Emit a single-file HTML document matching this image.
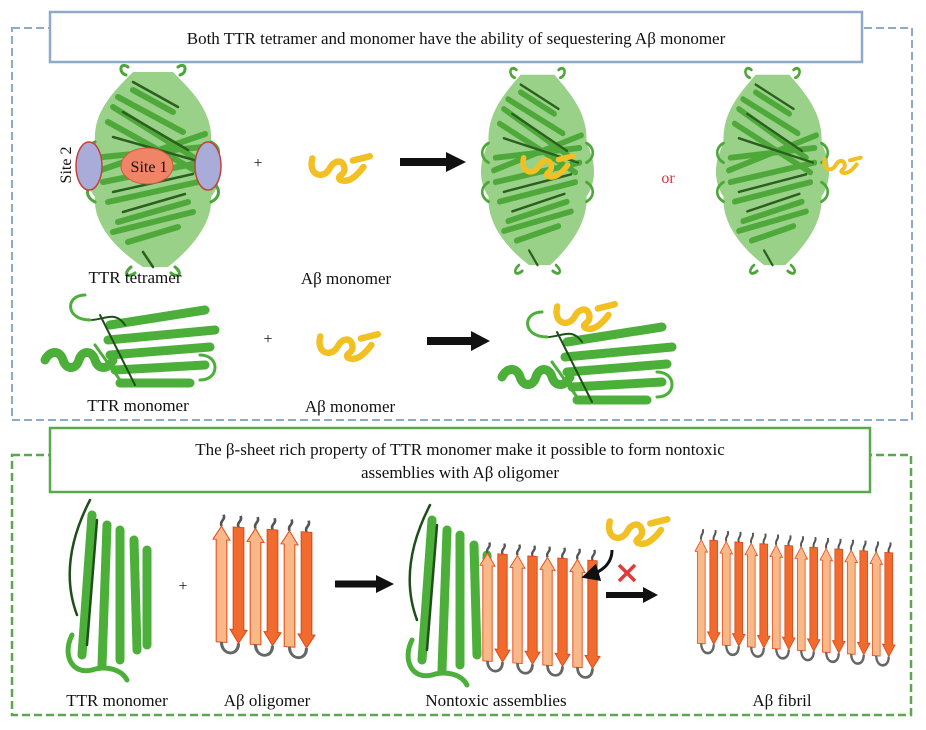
<!DOCTYPE html>
<html><head><meta charset="utf-8"><style>
html,body{margin:0;padding:0;background:#fff}
svg{display:block}
text{font-family:"Liberation Serif",serif;fill:#111}
</style></head><body>
<svg width="926" height="730" viewBox="0 0 926 730" xmlns="http://www.w3.org/2000/svg">
<defs>
<symbol id="tet" viewBox="0 0 160 210" overflow="visible" preserveAspectRatio="none">
 <path d="M60,10 C40,30 20,50 22,80 C10,100 10,120 22,135 C20,160 40,185 70,205 L95,205 C120,185 140,160 138,135 C150,120 150,100 138,80 C140,50 120,30 100,10 Z" fill="#86c972" opacity="0.85"/>
 <g fill="none" stroke-linecap="round">
  <g stroke="#4fa83a" stroke-width="6">
   <path d="M40,45 L120,95"/><path d="M35,60 L125,110"/><path d="M45,35 L110,70"/>
   <path d="M30,120 L130,100"/><path d="M35,140 L125,120"/><path d="M45,160 L115,140"/>
   <path d="M55,180 L105,165"/><path d="M60,28 L100,50"/><path d="M30,95 L130,85"/>
   <path d="M40,170 L120,150"/><path d="M28,108 L132,72"/>
  </g>
  <g stroke="#2a5f1e" stroke-width="2.5">
   <path d="M50,50 L115,88"/><path d="M40,75 L128,100"/><path d="M40,130 L120,112"/><path d="M50,150 L112,132"/><path d="M70,190 L80,205"/><path d="M60,20 L105,45"/>
  </g>
  <g stroke="#4ea63a" stroke-width="3">
   <path d="M55,5 c-8,-6 -10,6 -2,8 M105,5 c8,-6 10,6 2,8 M58,205 c-8,6 -4,12 4,6 M102,205 c8,6 4,12 -4,6"/>
   <path d="M22,80 c-10,5 -10,15 0,20 M138,80 c10,5 10,15 0,20 M22,120 c-10,5 -10,15 0,20 M138,120 c10,5 10,15 0,20"/>
  </g>
 </g>
</symbol>
<symbol id="mono" viewBox="0 0 200 110" overflow="visible">
 <g fill="none" stroke-linecap="round">
  <path d="M5,75 c5,-10 15,-10 18,0 c3,10 13,10 16,0 c3,-10 13,-10 16,0 c3,10 13,10 18,0" stroke="#4caf3a" stroke-width="9"/>
  <g stroke="#4caf3a" stroke-width="9">
   <path d="M70,40 L165,25"/><path d="M68,55 L175,45"/><path d="M70,70 L170,62"/><path d="M75,85 L165,80"/><path d="M80,98 L150,98"/>
  </g>
  <g stroke="#1f4f18" stroke-width="2">
   <path d="M45,10 c-20,0 -20,25 5,25 c15,0 25,-10 35,5 M60,30 L95,100 M160,70 c20,0 20,25 0,25"/>
  </g>
  <path d="M45,10 c-20,0 -20,25 5,25 M160,70 c20,0 20,25 0,25 M55,60 L80,95" stroke="#4caf3a" stroke-width="3"/>
 </g>
</symbol>
<symbol id="vm" viewBox="0 0 90 190" overflow="visible">
 <g fill="none" stroke-linecap="round">
  <g stroke="#4caf3a" stroke-width="9">
   <path d="M30,20 L20,160"/><path d="M45,30 L40,170"/><path d="M58,35 L58,165"/><path d="M72,45 L75,155"/><path d="M85,55 L85,150"/>
  </g>
  <g stroke="#1f4f18" stroke-width="2.5"><path d="M28,5 C10,40 0,80 15,120 M35,25 L25,150"/></g>
  <path d="M10,140 c-10,20 0,40 20,35 c15,-5 30,0 35,10" stroke="#4caf3a" stroke-width="5"/>
 </g>
</symbol>
<symbol id="ab" viewBox="0 0 60 30" overflow="visible">
 <path d="M4,6 C0,22 14,26 20,16 C24,8 32,6 34,14 C36,22 26,22 30,26 C38,30 46,22 52,14 M42,8 L58,4" fill="none" stroke="#f2c022" stroke-width="6" stroke-linecap="round" stroke-linejoin="round"/>
</symbol>
<symbol id="up" viewBox="0 0 16 120" overflow="visible" preserveAspectRatio="none">
 <path d="M3,120 L3,14 L0,14 L8,0 L16,14 L13,14 L13,120 Z" fill="#f9b887" stroke="#e0501e" stroke-width="1"/>
</symbol>
<symbol id="dn" viewBox="0 0 16 120" overflow="visible" preserveAspectRatio="none">
 <path d="M3,0 L13,0 L13,106 L16,106 L8,120 L0,106 L3,106 Z" fill="#f26b2e" stroke="#d84a18" stroke-width="1"/>
</symbol>
<symbol id="pair" viewBox="0 0 32 150" overflow="visible" preserveAspectRatio="none">
 <path d="M8,14 c-2,-6 4,-6 2,-12 M24,14 c-2,-6 4,-6 2,-12" fill="none" stroke="#555" stroke-width="2.5"/>
 <use href="#up" x="0" y="14" width="16" height="120"/>
 <use href="#dn" x="16" y="14" width="16" height="120"/>
 <path d="M8,134 c0,14 16,14 16,0" fill="none" stroke="#666" stroke-width="3"/>
</symbol>
<marker id="ah" markerWidth="6" markerHeight="6" refX="3" refY="3" orient="auto"><path d="M0,0 L6,3 L0,6 Z" fill="#111"/></marker>
</defs>

<rect x="12" y="28" width="900" height="392" fill="none" stroke="#8eaacb" stroke-width="2" stroke-dasharray="8,4"/>
<rect x="50" y="12" width="812" height="50" fill="#fff" stroke="#8eaacb" stroke-width="2.5"/>
<text x="456" y="44" font-size="17" text-anchor="middle">Both TTR tetramer and monomer have the ability of sequestering Aβ monomer</text>

<use href="#tet" x="73" y="62" width="160" height="210"/>
<ellipse cx="89" cy="166" rx="13" ry="24" fill="#a9acd9" stroke="#c2433a" stroke-width="1.5"/>
<ellipse cx="208" cy="166" rx="13" ry="24" fill="#a9acd9" stroke="#c2433a" stroke-width="1.5"/>
<ellipse cx="147" cy="166" rx="26" ry="18" fill="#f08466" stroke="#d9573c"/>
<text x="149" y="172" font-size="16" text-anchor="middle">Site 1</text>
<text x="0" y="0" font-size="16" text-anchor="middle" transform="translate(71,165) rotate(-90)">Site 2</text>
<text x="258" y="168" font-size="16" text-anchor="middle">+</text>
<use href="#ab" x="300" y="152" width="80" height="32"/>
<path d="M400,162 L448,162" stroke="#111" stroke-width="8"/><path d="M446,152 L466,162 L446,172 Z" fill="#111"/>
<use href="#tet" x="470" y="65" width="135" height="205"/>
<use href="#ab" x="520" y="150" width="55" height="32"/>
<text x="668" y="183" font-size="16" text-anchor="middle" style="fill:#d33">or</text>
<use href="#tet" x="705" y="65" width="135" height="205"/>
<use href="#ab" x="822" y="150" width="40" height="30"/>
<text x="135" y="283" font-size="17" text-anchor="middle">TTR tetramer</text>
<text x="346" y="284" font-size="17" text-anchor="middle">Aβ monomer</text>

<use href="#mono" x="40" y="285" width="200" height="110"/>
<text x="268" y="344" font-size="16" text-anchor="middle">+</text>
<use href="#ab" x="308" y="330" width="80" height="32"/>
<path d="M427,341 L473,341" stroke="#111" stroke-width="8"/><path d="M471,331 L490,341 L471,351 Z" fill="#111"/>
<use href="#mono" x="497" y="302" width="200" height="110"/>
<use href="#ab" x="545" y="300" width="80" height="32"/>
<text x="138" y="411" font-size="17" text-anchor="middle">TTR monomer</text>
<text x="350" y="412" font-size="17" text-anchor="middle">Aβ monomer</text>

<rect x="12" y="455" width="899" height="260" fill="none" stroke="#5aa84c" stroke-width="2.5" stroke-dasharray="8,4"/>
<rect x="50" y="428" width="820" height="64" fill="#fff" stroke="#5aa84c" stroke-width="2.5"/>
<text x="460" y="455" font-size="17" text-anchor="middle">The β-sheet rich property of TTR monomer make it possible to form nontoxic</text>
<text x="460" y="478" font-size="17" text-anchor="middle">assemblies with Aβ oligomer</text>

<use href="#vm" x="62" y="495" width="90" height="190"/>
<text x="183" y="591" font-size="16" text-anchor="middle">+</text>
<g transform="translate(213,512) skewY(4)">
 <use href="#pair" x="0" y="0" width="34" height="145"/>
 <use href="#pair" x="34" y="0" width="34" height="145"/>
 <use href="#pair" x="68" y="0" width="34" height="145"/>
</g>
<path d="M335,584 L378,584" stroke="#111" stroke-width="7"/><path d="M376,575 L394,584 L376,593 Z" fill="#111"/>
<use href="#vm" x="402" y="500" width="90" height="190"/>
<g transform="translate(480,540) skewY(4)">
 <use href="#pair" x="0" y="0" width="30" height="135"/>
 <use href="#pair" x="30" y="0" width="30" height="135"/>
 <use href="#pair" x="60" y="0" width="30" height="135"/>
 <use href="#pair" x="90" y="0" width="30" height="135"/>
</g>
<use href="#ab" x="600" y="515" width="75" height="32"/>
<path d="M612,550 C612,565 600,572 590,575" fill="none" stroke="#111" stroke-width="3" marker-end="url(#ah)"/>
<path d="M619,565 L635,581 M635,565 L619,581" stroke="#e03a3a" stroke-width="3.5"/>
<path d="M606,595 L645,595" stroke="#111" stroke-width="6"/><path d="M643,587 L658,595 L643,603 Z" fill="#111"/>
<g transform="translate(695,527) skewY(4)">
 <use href="#pair" x="0" y="0" width="25" height="130"/>
 <use href="#pair" x="25" y="0" width="25" height="130"/>
 <use href="#pair" x="50" y="0" width="25" height="130"/>
 <use href="#pair" x="75" y="0" width="25" height="130"/>
 <use href="#pair" x="100" y="0" width="25" height="130"/>
 <use href="#pair" x="125" y="0" width="25" height="130"/>
 <use href="#pair" x="150" y="0" width="25" height="130"/>
 <use href="#pair" x="175" y="0" width="25" height="130"/>
</g>

<text x="117" y="706" font-size="17" text-anchor="middle">TTR monomer</text>
<text x="267" y="706" font-size="17" text-anchor="middle">Aβ oligomer</text>
<text x="496" y="706" font-size="17" text-anchor="middle">Nontoxic assemblies</text>
<text x="782" y="706" font-size="17" text-anchor="middle">Aβ fibril</text>
</svg>
</body></html>
